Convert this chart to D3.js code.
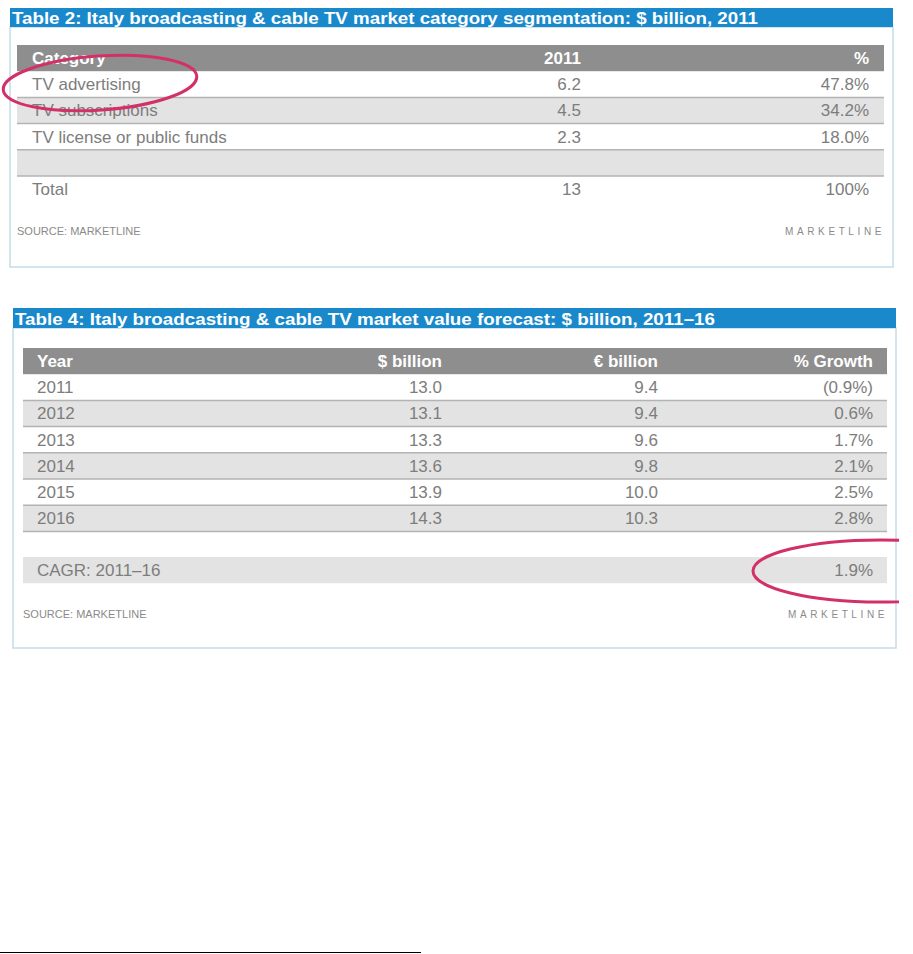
<!DOCTYPE html>
<html>
<head>
<meta charset="utf-8">
<script src="https://cdn.jsdelivr.net/npm/d3@7"></script>
<style>
  html, body { margin: 0; padding: 0; background: #fff; }
  svg { display: block; font-family: Arial, "Liberation Sans", sans-serif; }
  .title { fill: #fff; font-weight: bold; font-size: 17px; }
  .hdr   { fill: #fff; font-weight: bold; font-size: 17px; }
  .cell  { fill: #7d7d7d; font-size: 17px; }
  .src   { fill: #8a8a8a; font-size: 11px; }
  .brand { fill: #8a8a8a; font-size: 10px; letter-spacing: 3.6px; }
</style>
</head>
<body>
<svg id="chart" width="913" height="954"></svg>
<script>
// Table 2: category segmentation, 2011
const segTitle   = 'Table 2: Italy broadcasting & cable TV market category segmentation: $ billion, 2011';
const segHeaders = ['Category', '2011', '%'];
const segCats    = ['TV advertising', 'TV subscriptions', 'TV license or public funds', '', 'Total'];
const segValues  = ['6.2', '4.5', '2.3', '', '13'];
const segShares  = ['47.8%', '34.2%', '18.0%', '', '100%'];

// Table 4: market value forecast, 2011-16
const fcTitle   = 'Table 4: Italy broadcasting & cable TV market value forecast: $ billion, 2011–16';
const fcHeaders = ['Year', '$ billion', '€ billion', '% Growth'];
const fcYears   = ['2011', '2012', '2013', '2014', '2015', '2016'];
const fcUsd     = ['13.0', '13.1', '13.3', '13.6', '13.9', '14.3'];
const fcEur     = ['9.4', '9.4', '9.6', '9.8', '10.0', '10.3'];
const fcGrowth  = ['(0.9%)', '0.6%', '1.7%', '2.1%', '2.5%', '2.8%'];
const fcCagr    = ['CAGR: 2011–16', '', '', '1.9%'];

const BLUE = '#1a89cb', HDR = '#8e8e8e', STRIPE = '#e3e3e3', RULE = '#b3b3b3',
      FRAME = '#c3dce8', PINK = '#d3306a';

const svg = d3.select('#chart');

// one framed table: title bar, grey header, striped rows, source line
function drawTable(o) {
  const g = svg.append('g');
  g.append('rect').attr('x', o.box[0]).attr('y', o.titleY[1])
    .attr('width', o.box[1] - o.box[0]).attr('height', o.bottom - o.titleY[1])
    .attr('fill', '#fff').attr('stroke', FRAME).attr('stroke-width', 1.5);
  g.append('rect').attr('x', o.box[0]).attr('y', o.titleY[0])
    .attr('width', o.box[1] - o.box[0]).attr('height', o.titleY[1] - o.titleY[0])
    .attr('fill', BLUE);
  g.append('text').attr('class', 'title').attr('x', o.box[0] + 2).attr('y', o.titleY[1] - 3.5)
    .attr('textLength', o.titleW).attr('lengthAdjust', 'spacingAndGlyphs').text(o.title);

  const nRows = o.rows.length;
  const y = d3.scaleBand().domain(d3.range(-1, nRows)).range([o.headTop, o.headTop + (nRows + 1) * o.rowH]);
  const ncol = o.headers.length;
  const colX = d3.scaleOrdinal().domain(d3.range(ncol)).range(o.cols);
  const anchor = c => c === 0 ? 'start' : 'end';
  const rowY = i => o.rowTop && o.rowTop[i] != null ? o.rowTop[i] : y(i);

  // header
  g.append('rect').attr('x', o.tbl[0]).attr('y', y(-1)).attr('width', o.tbl[1] - o.tbl[0])
    .attr('height', y.bandwidth()).attr('fill', HDR);
  g.append('g').selectAll('text').data(o.headers).join('text')
    .attr('class', 'hdr').attr('text-anchor', (d, c) => anchor(c))
    .attr('x', (d, c) => colX(c)).attr('y', y(-1) + y.bandwidth() / 2 + 6).text(d => d);

  // stripes + rules
  const rowsG = g.append('g').selectAll('g').data(o.rows).join('g')
    .attr('transform', (d, i) => `translate(0,${rowY(i)})`);
  rowsG.filter((d, i) => o.striped(i)).append('rect')
    .attr('x', o.tbl[0]).attr('width', o.tbl[1] - o.tbl[0]).attr('height', y.bandwidth()).attr('fill', STRIPE);
  rowsG.filter((d, i) => o.ruled(i)).each(function() {
    const r = d3.select(this);
    [0, y.bandwidth()].forEach(yy => r.append('line')
      .attr('x1', o.tbl[0]).attr('x2', o.tbl[1]).attr('y1', yy).attr('y2', yy)
      .attr('stroke', RULE).attr('stroke-width', 1.5));
  });
  rowsG.selectAll('text').data(d => d).join('text')
    .attr('class', 'cell').attr('text-anchor', (d, c) => anchor(c))
    .attr('x', (d, c) => colX(c)).attr('y', y.bandwidth() / 2 + 6).text(d => d);

  g.append('text').attr('class', 'src').attr('x', o.tbl[0]).attr('y', o.srcY).text('SOURCE: MARKETLINE');
  g.append('text').attr('class', 'brand').attr('text-anchor', 'end')
    .attr('x', o.tbl[1] + 1).attr('y', o.srcY).text('MARKETLINE');
}

drawTable({
  title: segTitle, titleW: 746, headers: segHeaders,
  rows: segCats.map((c, i) => [c, segValues[i], segShares[i]]),
  box: [10, 893], titleY: [8, 27], bottom: 267,
  tbl: [17, 884], headTop: 45, rowH: 26.2,
  cols: [32, 581, 869],
  striped: i => i % 2 === 1, ruled: i => i % 2 === 1,
  srcY: 235
});

const fcRows = fcYears.map((yv, i) => [yv, fcUsd[i], fcEur[i], fcGrowth[i]]).concat([fcCagr]);
drawTable({
  title: fcTitle, titleW: 700, headers: fcHeaders, rows: fcRows,
  box: [13, 896], titleY: [308, 328], bottom: 648,
  tbl: [23, 887], headTop: 348, rowH: 26.2,
  cols: [37, 442, 658, 873],
  rowTop: { 6: 557 },
  striped: i => i % 2 === 1 || i === 6, ruled: i => i % 2 === 1,
  srcY: 618
});

// hand-drawn highlight marks
svg.append('ellipse').attr('cx', 100).attr('cy', 83).attr('rx', 97).attr('ry', 27)
  .attr('transform', 'rotate(-4 100 83)')
  .attr('fill', 'none').attr('stroke', PINK).attr('stroke-width', 3);

svg.append('clipPath').attr('id', 'cut').append('rect')
  .attr('x', 0).attr('y', 0).attr('width', 899).attr('height', 954);
svg.append('ellipse').attr('clip-path', 'url(#cut)')
  .attr('cx', 880).attr('cy', 571).attr('rx', 127).attr('ry', 31)
  .attr('fill', 'none').attr('stroke', PINK).attr('stroke-width', 3);

// footnote rule
svg.append('line').attr('x1', 0).attr('x2', 421).attr('y1', 952.5).attr('y2', 952.5)
  .attr('stroke', '#000').attr('stroke-width', 1.2);
</script>
</body>
</html>
